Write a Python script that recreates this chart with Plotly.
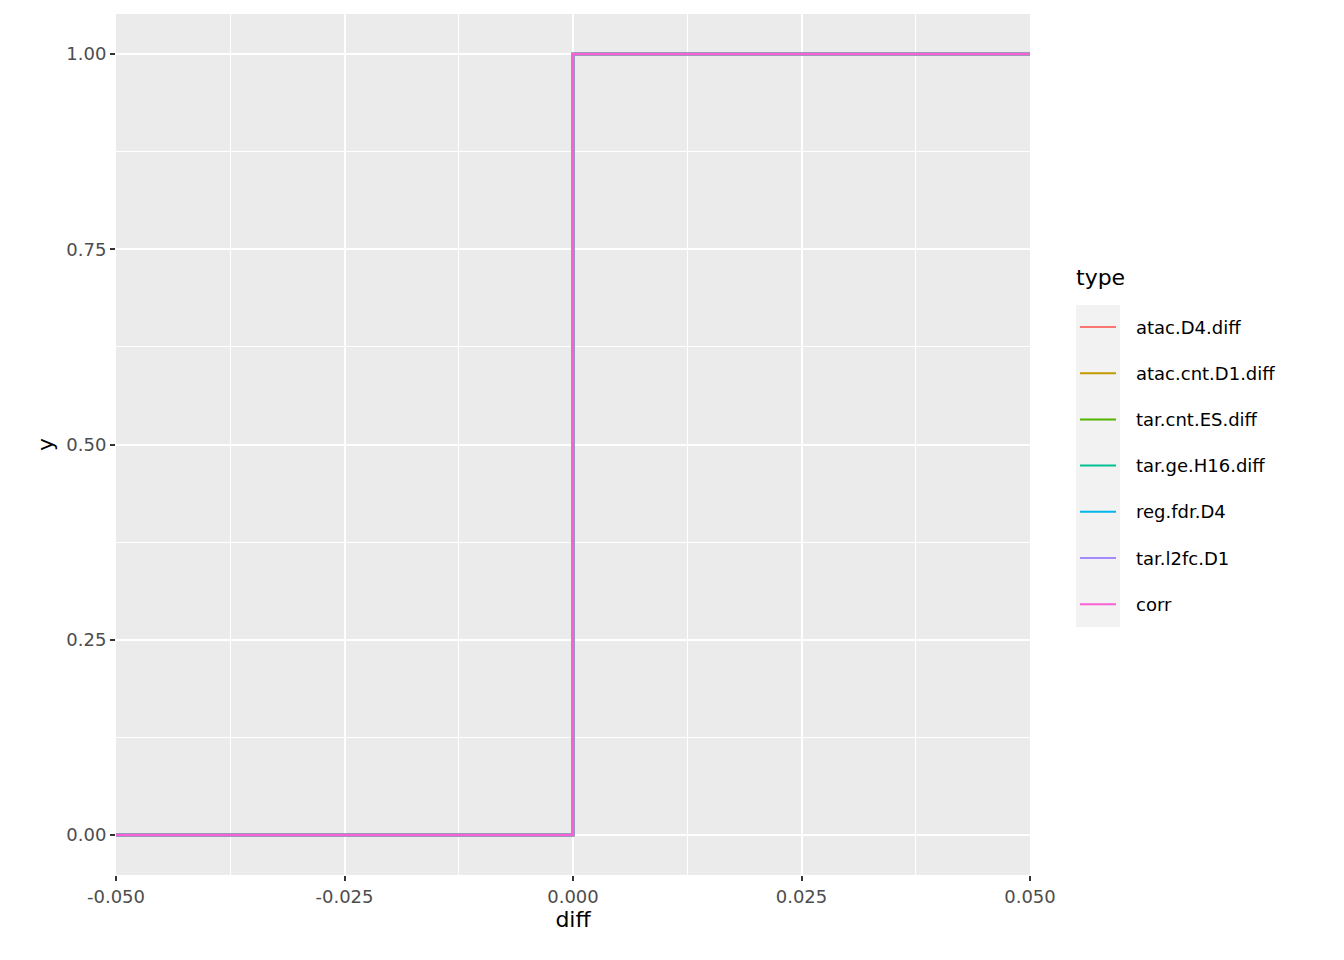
import plotly.graph_objects as go

types = ["atac.D4.diff", "atac.cnt.D1.diff", "tar.cnt.ES.diff", "tar.ge.H16.diff",
         "reg.fdr.D4", "tar.l2fc.D1", "corr"]
colors = ["#F8766D", "#C49A00", "#53B400", "#00C094", "#00B6EB", "#A58AFF", "#FB61D7"]
diff_x = [-0.05, 0.0, 0.05]
ecdf_y = [0.0, 1.0, 1.0]

L, R, T, B = 116, 1030, 14, 875
OFF = 8
def px(x): return (x - L) / (R - L)
def py(y): return (B - y) / (B - T)

fig = go.Figure()
for t, c in zip(types, colors):
    fig.add_trace(go.Scatter(x=diff_x, y=ecdf_y, mode="lines", line=dict(color=c, width=2.6, shape="hv"),
                             name=t, showlegend=False))

shapes = [dict(type="rect", xref="paper", yref="paper", x0=px(1076), x1=px(1120), y0=py(627), y1=py(305),
               fillcolor="#F2F2F2", line=dict(width=0), layer="below")]
ann = [dict(text="type", xref="paper", yref="paper", x=px(1074), y=py(277), xanchor="left", yanchor="middle",
            showarrow=False, font=dict(size=22, color="black"))]
for i, (t, c) in enumerate(zip(types, colors)):
    yc = 327 + i * 46.2
    shapes.append(dict(type="line", xref="paper", yref="paper", x0=px(1080), x1=px(1116), y0=py(yc), y1=py(yc),
                       line=dict(color=c, width=2)))
    ann.append(dict(text=t, xref="paper", yref="paper", x=px(1134), y=py(yc), xanchor="left", yanchor="middle",
                    showarrow=False, font=dict(size=18, color="black")))

axis_common = dict(showgrid=True, gridcolor="white", gridwidth=2.2, zeroline=False,
                   ticks="outside", ticklen=5, tickwidth=1.5, tickcolor="#333333",
                   tickfont=dict(size=18, color="#4D4D4D"), showline=False,
                   minor=dict(showgrid=True, gridcolor="white", gridwidth=1))
fig.update_layout(
    width=1344 - OFF, height=960 - OFF,
    margin=dict(l=L - OFF, r=1344 - R, t=T - OFF, b=960 - B),
    paper_bgcolor="white", plot_bgcolor="#EBEBEB",
    font=dict(family="DejaVu Sans"),
    shapes=shapes, annotations=ann,
    xaxis=dict(range=[-0.05, 0.05], tickvals=[-0.05, -0.025, 0, 0.025, 0.05],
               ticktext=["-0.050", "-0.025", "0.000", "0.025", "0.050"],
               title=dict(text="diff", font=dict(size=22, color="black"), standoff=6),
               **axis_common),
    yaxis=dict(range=[-0.0512, 1.0512], tickvals=[0, 0.25, 0.5, 0.75, 1],
               ticktext=["0.00", "0.25", "0.50", "0.75", "1.00"],
               title=dict(text="y", font=dict(size=22, color="black"), standoff=6),
               **axis_common),
)
fig.update_xaxes(minor=dict(tickvals=[-0.0375, -0.0125, 0.0125, 0.0375], ticks=""))
fig.update_yaxes(minor=dict(tickvals=[0.125, 0.375, 0.625, 0.875], ticks=""))
fig.write_html("out.html")
